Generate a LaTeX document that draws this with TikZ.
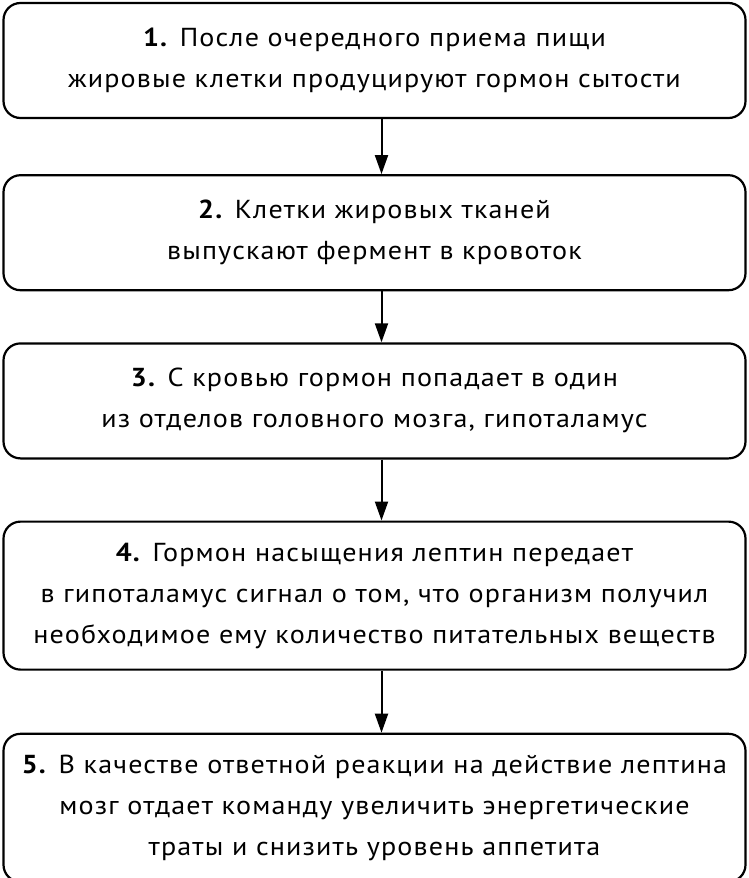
\documentclass[tikz,border=0pt]{standalone}
\usepackage{fontspec}
\setmainfont{PT Sans}[FakeStretch=1.08, LetterSpace=4.5]
\usetikzlibrary{arrows.meta, positioning}

\begin{document}
\begin{tikzpicture}[x=1pt, y=1pt, >={Triangle[length=19pt, width=13pt]},
    stepbox/.style={rectangle, draw=black, line width=2.2pt, rounded corners=17pt, align=center, minimum width=742pt, minimum height=115pt, inner sep=0pt, font=\fontsize{26}{41}\selectfont},
    tallbox/.style={stepbox, minimum height=148pt},
    link/.style={->, line width=2pt}]

    \useasboundingbox (0,0) rectangle (749,-878);

    % Steps
    \node (step1) [stepbox] at (374.5,-60.5) {\textbf{1.} После очередного приема пищи\\жировые клетки продуцируют гормон сытости};
    \node (step2) [stepbox, below=55pt of step1] {\textbf{2.} Клетки жировых тканей\\выпускают фермент в кровоток};
    \node (step3) [stepbox, below=51pt of step2] {\textbf{3.} С кровью гормон попадает в один\\из отделов головного мозга, гипоталамус};
    \node (step4) [tallbox, below=61pt of step3] {\textbf{4.} Гормон насыщения лептин передает\\в гипоталамус сигнал о том, что организм получил\\необходимое ему количество питательных веществ};
    \node (step5) [tallbox, below=62pt of step4] {\textbf{5.} В качестве ответной реакции на действие лептина\\мозг отдает команду увеличить энергетические\\траты и снизить уровень аппетита};

    % Connections
    \draw[link] ([xshift=7pt]step1.south) -- ([xshift=7pt]step2.north);
    \draw[link] ([xshift=7pt]step2.south) -- ([xshift=7pt]step3.north);
    \draw[link] ([xshift=7pt]step3.south) -- ([xshift=7pt]step4.north);
    \draw[link] ([xshift=7pt]step4.south) -- ([xshift=7pt]step5.north);

\end{tikzpicture}
\end{document}
